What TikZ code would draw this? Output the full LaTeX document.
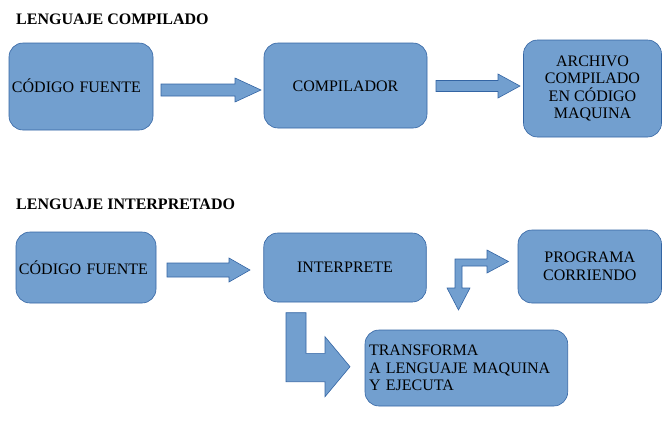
\documentclass[tikz,border=0pt]{standalone}
\usepackage{fontspec}
\setmainfont{Liberation Serif}

\definecolor{azulcaja}{HTML}{729FCF}
\definecolor{azulborde}{HTML}{3465A4}

\tikzset{
  caja/.style={draw=azulborde,fill=azulcaja,line width=0.6pt,rounded corners=14pt,
    inner sep=3pt,align=center,font=\fontsize{16}{17.6}\selectfont},
  flecha/.style={draw=azulborde,fill=azulcaja,line width=0.6pt,line join=miter},
  titulo/.style={anchor=west,inner sep=0pt,font=\fontsize{16}{18}\selectfont\bfseries}
}

\begin{document}
\begin{tikzpicture}[x=1pt,y=-1pt]
\useasboundingbox (0,0) rectangle (670,421);

% lenguaje compilado
\node[titulo] (tcomp) at (16,19) {LENGUAJE COMPILADO};

\node[caja,minimum width=144,minimum height=87,text width=138,align=left,text height=13pt]
  (fuente1) at (81,86.5) {CÓDIGO FUENTE};
\node[caja,minimum width=163,minimum height=85,text height=13pt] (compilador) at (345.5,85.5) {COMPILADOR};
\node[caja,minimum width=138,minimum height=97] (archivo) at (592.5,88.5)
  {ARCHIVO\\COMPILADO\\EN CÓDIGO\\MAQUINA};

\draw[flecha] (161,84) -- (235,84) -- (235,78) -- (261,90) -- (235,102) -- (235,96) -- (161,96) -- cycle;
\draw[flecha] (436,80.5) -- (498,80.5) -- (498,74) -- (520,86) -- (498,98) -- (498,91.5) -- (436,91.5) -- cycle;

% lenguaje interpretado
\node[titulo] (tinter) at (16,204) {LENGUAJE INTERPRETADO};

\node[caja,minimum width=140,minimum height=71,text width=134,align=left]
  (fuente2) at (86,267.5) {CÓDIGO FUENTE};
\node[caja,minimum width=162.5,minimum height=69] (interprete) at (345,267.5) {INTERPRETE};
\node[caja,minimum width=143.5,minimum height=73] (programa) at (589.75,266.5) {PROGRAMA\\CORRIENDO};
\node[caja,minimum width=202.7,minimum height=76,text width=194.7,inner xsep=4pt,align=left]
  (transforma) at (466.35,368) {TRANSFORMA\\A LENGUAJE MAQUINA\\Y EJECUTA};

\draw[flecha] (167,263) -- (229,263) -- (229,258) -- (250,270) -- (229,282) -- (229,277) -- (167,277) -- cycle;

% flecha doblada con dos puntas
\draw[flecha] (455,259) -- (487,259) -- (487,250) -- (508.5,261.5) -- (487,273) -- (487,266)
  -- (462,266) -- (462,288) -- (470,288) -- (458.5,310) -- (447,288) -- (455,288) -- cycle;

% flecha en L
\draw[flecha] (286,312.7) -- (306,312.7) -- (306,353.3) -- (325,353.3) -- (325,336.7) -- (350,366.7)
  -- (325,396.7) -- (325,381.7) -- (286,381.7) -- cycle;

\end{tikzpicture}
\end{document}
